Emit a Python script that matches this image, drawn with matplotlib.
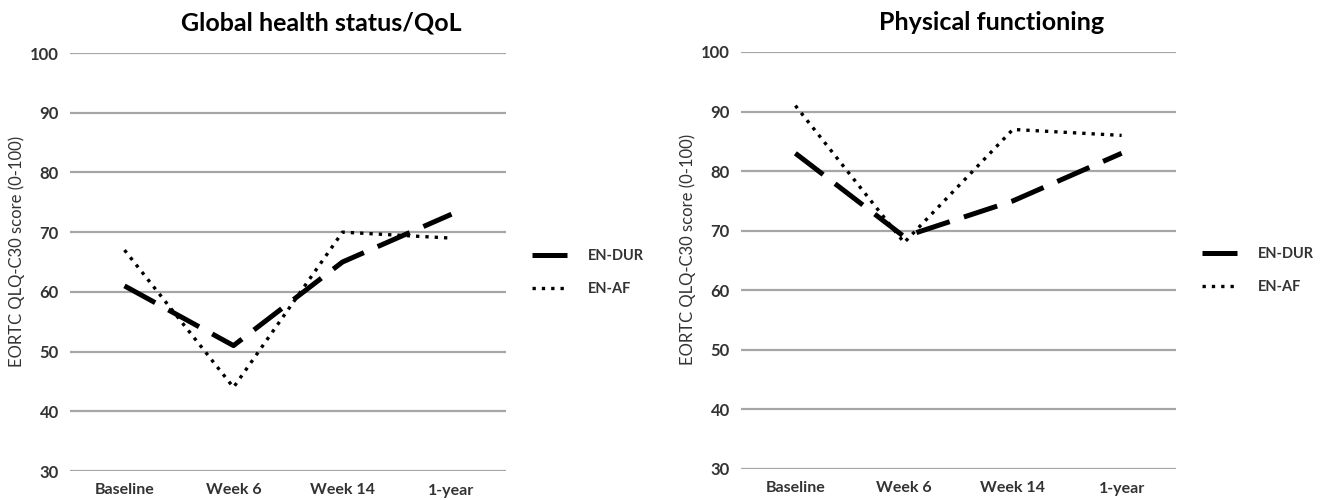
import matplotlib
matplotlib.use("Agg")
import matplotlib.pyplot as plt

# datos
categorias = ["Baseline", "Week 6", "Week 14", "1-year"]

global_dur = [61, 51, 65, 73]
global_af = [67, 44, 70, 69]

fisico_dur = [83, 69, 75, 83]
fisico_af = [91, 68, 87, 86]

yticks = [30, 40, 50, 60, 70, 80, 90, 100]

plt.rcParams["font.family"] = ["Lato", "DejaVu Sans"]

W, H = 1328, 500
fig = plt.figure(figsize=(W / 100, H / 100), dpi=100)


def panel(rect, titulo, dur, af):
    x0, y0, x1, y1 = rect  # pixeles
    ax = fig.add_axes([x0 / W, 1 - y1 / H, (x1 - x0) / W, (y1 - y0) / H])
    x = range(len(categorias))
    ax.plot(x, dur, color="black", lw=3.6, dashes=(7, 3), label="EN-DUR",
            solid_capstyle="butt", dash_capstyle="butt")
    ax.plot(x, af, color="black", lw=2.4, dashes=(1.0, 1.8), label="EN-AF",
            dash_capstyle="butt")
    ax.set_xlim(-0.5, len(categorias) - 0.5)
    ax.set_ylim(30, 100)
    ax.set_yticks(yticks)
    ax.set_yticklabels([str(v) for v in yticks], fontweight="bold",
                       fontsize=12, color="#333333")
    ax.set_xticks(list(x))
    ax.set_xticklabels(categorias, fontweight="bold", fontsize=11.5,
                       color="#333333")
    ax.tick_params(length=0, pad=8)
    ax.tick_params(axis="x", pad=9)
    ax.grid(axis="y", color="#a6a6a6", lw=1.6)
    ax.set_axisbelow(True)
    for s in ax.spines.values():
        s.set_visible(False)
    ax.set_ylabel("EORTC QLQ-C30 score (0-100)", fontsize=12,
                  color="#333333")
    ax.yaxis.set_label_coords(-0.103, 0.526)
    ax.set_title(titulo, fontweight="bold", fontsize=18, pad=16, x=0.576)
    ax.legend(loc="center left", bbox_to_anchor=(1.03, 0.475), frameon=False,
              handlelength=2.5, handletextpad=1.3, labelspacing=1.3,
              prop={"weight": "bold", "size": 10.5}, labelcolor="#333333")
    return ax


panel((70, 53, 506, 471), "Global health status/QoL", global_dur, global_af)
panel((741, 52, 1176, 469), "Physical functioning", fisico_dur, fisico_af)

fig.savefig("out.png", dpi=100)
